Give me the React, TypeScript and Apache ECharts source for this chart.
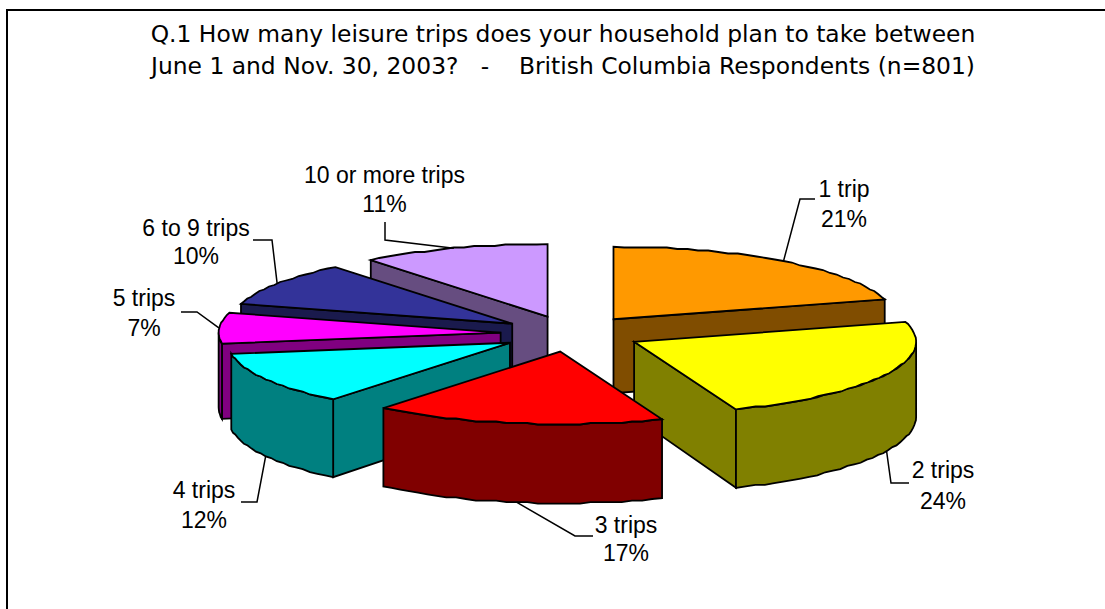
import React, { useEffect, useRef } from "react";
import * as echarts from "echarts";

const TITLE = "Q.1 How many leisure trips does your household plan to take between\nJune 1 and Nov. 30, 2003?   -    British Columbia Respondents (n=801)";
const categories = ["1 trip", "2 trips", "3 trips", "4 trips", "5 trips", "6 to 9 trips", "10 or more trips"];
const percents = [21, 24, 17, 12, 7, 10, 11];

const topColors = ["#FF9900", "#FFFF00", "#FF0000", "#00FFFF", "#FF00FF", "#333399", "#CC99FF"];
const wallColors = ["#804D00", "#808000", "#800000", "#008080", "#800080", "#1A1A4D", "#664D80"];

// Layout of the tilted pie (pixels)
const CX = 571, CY = 333.7, RX = 282, RY = 72.5, EXPLODE = 0.25;
const LABEL_FONT = '23px "Liberation Sans", Arial, sans-serif';

// Per-label layout: [elbowX, elbowY, endX, endY, textCenterX, line1CenterY, line2CenterY]
const labelLayout = [
  [800, 199, 815, 199, 844, 189, 219],
  [891, 483, 909, 483, 943, 470, 501],
  [575, 536, 593, 536, 626, 525, 553],
  [257, 502, 241, 502, 204, 490, 520],
  [197, 312, 181, 312, 144, 298, 328],
  [272, 240, 253, 240, 196, 228, 256],
  [385, 240, 385, 222, 384.5, 175, 204],
];

const total = percents.reduce((a, b) => a + b, 0);
const rad = (d: number) => (d * Math.PI) / 180;

function sliceGeom(i: number) {
  let before = 0;
  for (let k = 0; k < i; k++) before += percents[k];
  const a0 = (before / total) * 360;
  const a1 = ((before + percents[i]) / total) * 360;
  const mid = (a0 + a1) / 2;
  const ax = CX + EXPLODE * RX * Math.sin(rad(mid));
  const ay = CY - EXPLODE * RY * Math.cos(rad(mid));
  return { a0, a1, mid, ax, ay };
}

const wallH = (y: number) => 78 + (y - 400) * 0.05;

function arcPoint(g: ReturnType<typeof sliceGeom>, deg: number): number[] {
  return [g.ax + RX * Math.sin(rad(deg)), g.ay - RY * Math.cos(rad(deg))];
}

// Chart-style stepped arc
function arcPoints(g: ReturnType<typeof sliceGeom>, from: number, to: number, drop: boolean): number[][] {
  const n = Math.max(2, Math.ceil(Math.abs(to - from) / 2.2));
  const pts: number[][] = [];
  for (let k = 0; k <= n; k++) {
    const d = from + ((to - from) * k) / n;
    const p = arcPoint(g, d);
    const y = k === 0 || k === n ? p[1] : Math.round(p[1] / 1.5) * 1.5;
    pts.push([p[0], drop ? y + wallH(p[1]) : y]);
  }
  return pts;
}

const ranks = percents
  .map((_, i) => i)
  .sort((a, b) => sliceGeom(a).ay - sliceGeom(b).ay);

const EDGE = { stroke: "#000", lineWidth: 1.8, lineJoin: "miter" as const };

function renderSlice(params: any, api: any) {
  const i = params.dataIndex;
  const g = sliceGeom(i);
  const base = ranks.indexOf(i) * 10;
  const children: any[] = [];
  const poly = (points: number[][], fill: string, z: number) =>
    children.push({ type: "polygon", z2: base + z, shape: { points }, style: { ...EDGE, fill } });
  const drop = (p: number[]) => [p[0], p[1] + wallH(p[1])];
  const apex = [g.ax, g.ay];
  const s = arcPoint(g, g.a0);
  const e = arcPoint(g, g.a1);
  // only the radial faces that turn towards the viewer
  if (Math.sin(rad(g.a0)) < -1e-6) poly([apex, s, drop(s), drop(apex)], wallColors[i], 1);
  if (Math.sin(rad(g.a1)) > 1e-6) poly([apex, e, drop(e), drop(apex)], wallColors[i], 2);
  const f0 = Math.max(g.a0, 90), f1 = Math.min(g.a1, 270);
  if (f1 > f0) {
    const top = arcPoints(g, f0, f1, false);
    const bottom = arcPoints(g, f0, f1, true).reverse();
    poly([...top, ...bottom], wallColors[i], 3);
  }
  poly([apex, ...arcPoints(g, g.a0, g.a1, false)], topColors[i], 4);

  // leader line and label
  const L = labelLayout[i];
  const front = g.mid > 90 && g.mid < 270;
  const m = arcPoint(g, g.mid);
  const from = front ? drop(m) : m;
  children.push({
    type: "polyline",
    z2: 200,
    shape: { points: [from, [L[0], L[1]], [L[2], L[3]]] },
    style: { stroke: "#000", lineWidth: 1.5, fill: "none" },
  });
  const text = (t: string, y: number) =>
    children.push({
      type: "text",
      z2: 201,
      x: L[4],
      y,
      style: { text: t, font: LABEL_FONT, fill: "#000", textAlign: "center", textVerticalAlign: "middle" },
    });
  text(categories[i], L[5]);
  text(`${api.value(0)}%`, L[6]);
  return { type: "group", children };
}

export default function App() {
  const ref = useRef<HTMLDivElement>(null);
  useEffect(() => {
    document.body.style.margin = "0";
    const chart = echarts.init(ref.current!, null, { renderer: "svg" });
    chart.setOption({
      animation: false,
      backgroundColor: "#fff",
      title: {
        text: TITLE,
        left: 558,
        top: 13,
        textAlign: "center",
        textStyle: { fontFamily: '"DejaVu Sans", sans-serif', fontWeight: "normal", fontSize: 23.4, lineHeight: 32, color: "#000" },
      },
      graphic: [
        {
          type: "polyline",
          shape: { points: [[7, 620], [7, 10], [1120, 10]] },
          style: { stroke: "#000", lineWidth: 2, fill: "none" },
        },
      ],
      series: [
        {
          type: "custom",
          coordinateSystem: "none",
          renderItem: renderSlice,
          data: percents.map((value, i) => ({ name: categories[i], value: [value] })),
        },
      ],
    });
    return () => chart.dispose();
  }, []);
  return <div ref={ref} style={{ position: "fixed", left: 0, top: 0, width: 1105, height: 609 }} />;
}
